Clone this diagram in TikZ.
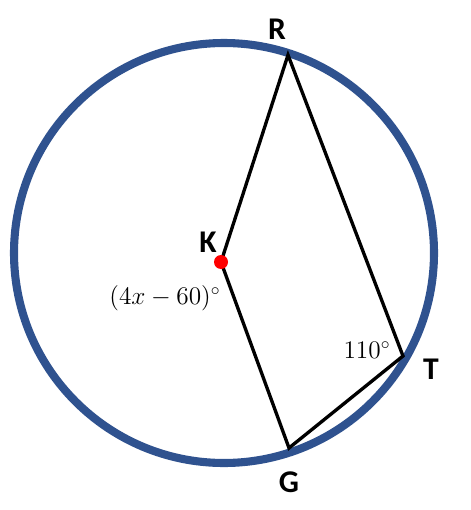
\documentclass[tikz,border=0pt]{standalone}
\usepackage{fontspec}
\setsansfont{Carlito}
\usetikzlibrary{shapes,arrows}
\definecolor{rimblue}{RGB}{47,82,143}
\tikzstyle{rim} = [draw=rimblue, line width=4.6pt]
\tikzstyle{chord} = [draw, black, line width=1.9pt, line join=miter]
\tikzstyle{vlabel} = [font=\sffamily\bfseries\fontsize{18}{18}\selectfont, inner sep=0pt]
\tikzstyle{alabel} = [font=\fontsize{14.6}{15}\selectfont, inner sep=0pt]
\begin{document}
\begin{tikzpicture}[x=0.02cm, y=-0.02cm]
        \useasboundingbox (0,0) rectangle (470,510);
        % Circle
        \node (o) at (224,253) {};
        \draw [rim] (o.center) circle (210);

        % Place points
        \coordinate (K) at (221,262);
        \coordinate (R) at (288,55);
        \coordinate (T) at (403,356);
        \coordinate (G) at (289,448);
        \path [chord] (G) -- (K) -- (R) -- (T) -- cycle;
        \fill [red] (K) circle (7);

        % Labels
        \node (lr) [vlabel] at (277,29) {R};
        \node (lk) [vlabel] at (208,242) {K};
        \node (lt) [vlabel] at (431,369) {T};
        \node (lg) [vlabel] at (289,482) {G};
        \node (ang) [alabel] at (367,350) {$110^\circ$};
        \node (arc) [alabel] at (165,298) {$(4x-60)^\circ$};
    \end{tikzpicture}
\end{document}
